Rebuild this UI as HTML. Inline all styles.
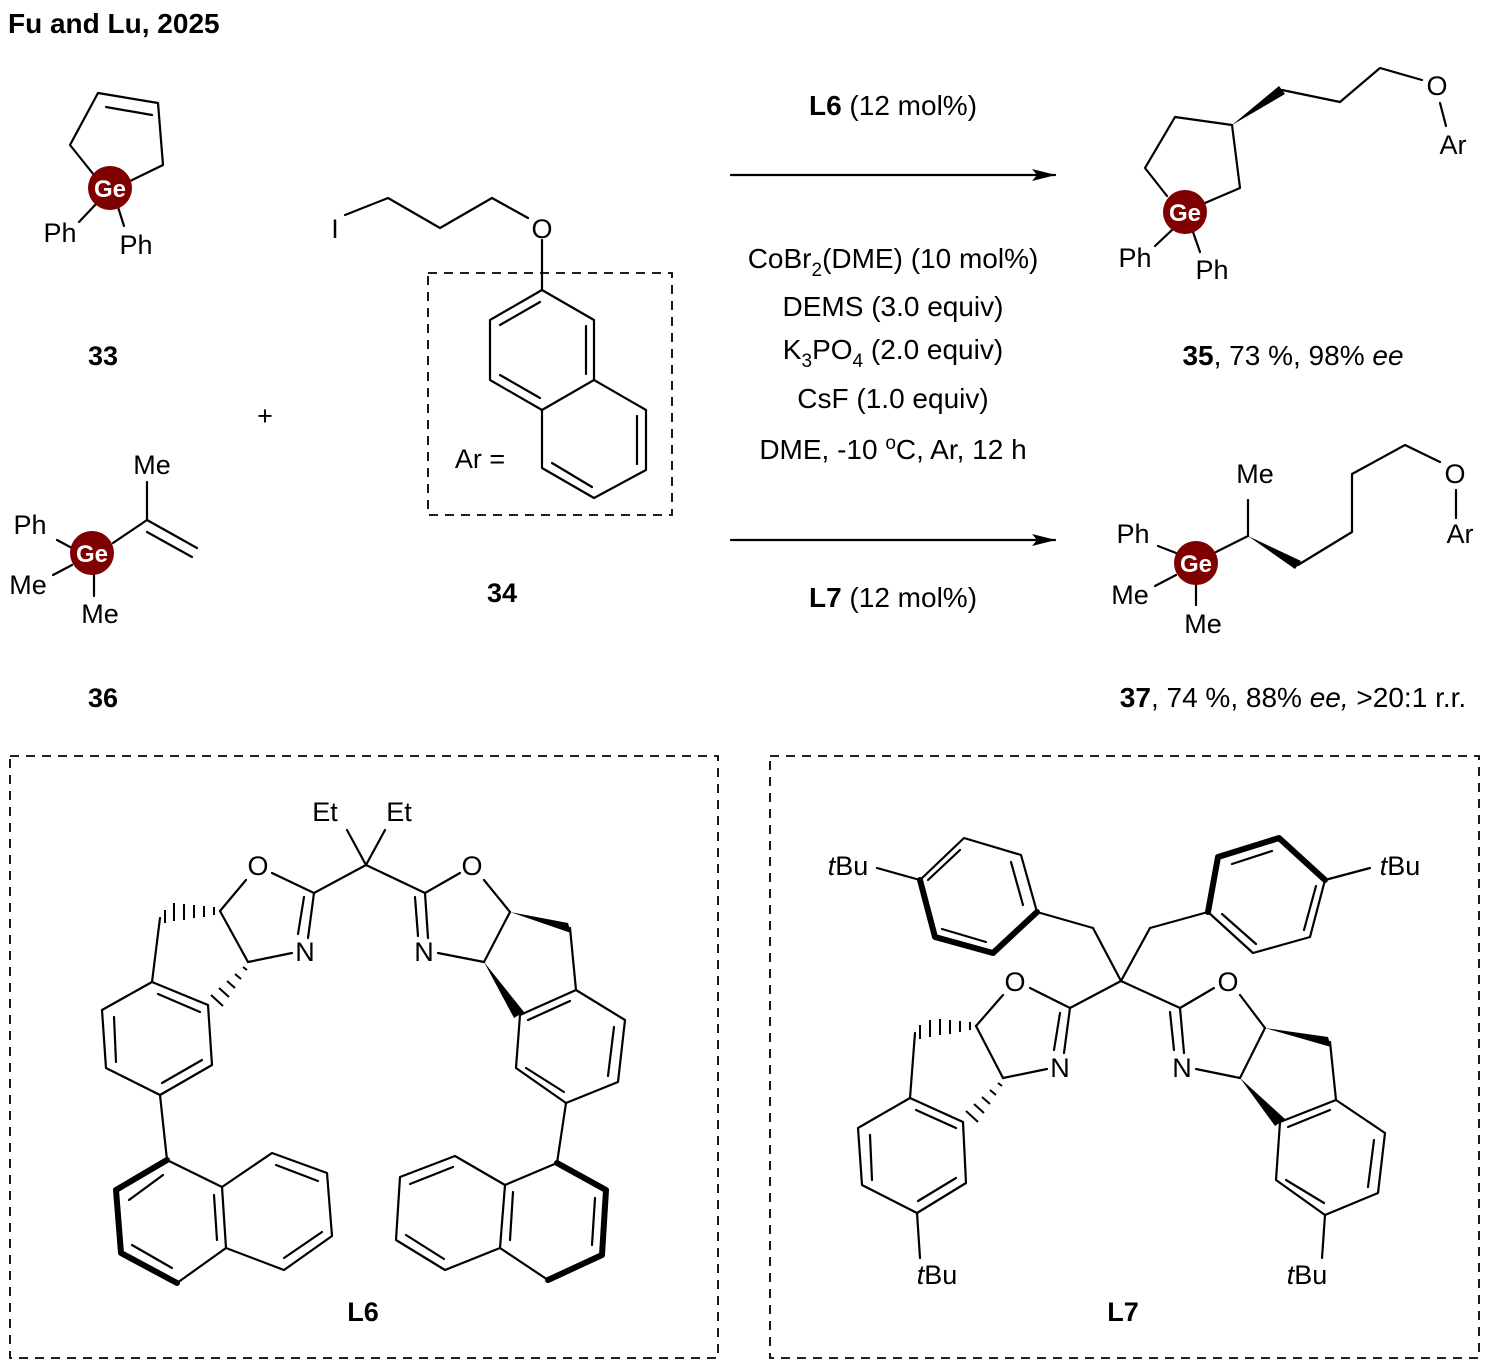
<!DOCTYPE html>
<html><head><meta charset="utf-8"><style>
html,body{margin:0;padding:0;background:#fff}
svg{display:block}
text{font-family:"Liberation Sans",Arial,sans-serif;fill:#000}
</style></head><body>
<svg width="1489" height="1368" viewBox="0 0 1489 1368" xmlns="http://www.w3.org/2000/svg">
<defs>
<marker id="ah" markerWidth="24" markerHeight="12" refX="23" refY="6" orient="auto" markerUnits="userSpaceOnUse"><path d="M0,0 L24,6 L0,12 L5,6 z" fill="#000"/></marker>
</defs>
<g stroke="#000" stroke-width="2.2" fill="none" stroke-linecap="round" stroke-linejoin="round">
<polyline points="94,175 70,145 98,93 158,103 163,165 128,182"/>
<line x1="106" y1="107" x2="152" y2="115"/>
<line x1="96" y1="204" x2="79" y2="222"/>
<line x1="118" y1="207" x2="124" y2="226"/>
<polyline points="345,215 388,198 440,228 492,198 528,218"/>
<line x1="542" y1="240" x2="542" y2="290"/>
<polygon points="542,290 594,320 594,380 542,410 490,380 490,320"/>
<polyline points="594,380 646,410 646,470 594,498 542,468 542,410"/>
<line x1="500" y1="325" x2="540" y2="302"/>
<line x1="586" y1="326" x2="586" y2="374"/>
<line x1="500" y1="375" x2="540" y2="398"/>
<line x1="637" y1="416" x2="637" y2="464"/>
<line x1="552" y1="463" x2="592" y2="487"/>
<line x1="113" y1="543" x2="147" y2="520"/>
<line x1="147" y1="520" x2="147" y2="482"/>
<line x1="147" y1="520" x2="197" y2="548"/>
<line x1="147" y1="532" x2="192" y2="557"/>
<line x1="57" y1="540" x2="72" y2="548"/>
<line x1="53" y1="575" x2="72" y2="565"/>
<line x1="94" y1="575" x2="94" y2="596"/>
<line x1="731" y1="175" x2="1055" y2="175" marker-end="url(#ah)"/>
<line x1="731" y1="540" x2="1055" y2="540" marker-end="url(#ah)"/>
<polyline points="1167,196 1145,168 1175,117 1232,125 1240,188 1205,203"/>
<polyline points="1282,90 1340,102 1380,68 1422,80"/>
<line x1="1440" y1="103" x2="1446" y2="126"/>
<line x1="1172" y1="230" x2="1155" y2="246"/>
<line x1="1193" y1="232" x2="1200" y2="252"/>
<line x1="1216" y1="552" x2="1248" y2="536"/>
<line x1="1248" y1="536" x2="1248" y2="500"/>
<polyline points="1298,565 1352,532 1352,474 1405,445 1440,462"/>
<line x1="1456" y1="490" x2="1456" y2="518"/>
<line x1="1158" y1="546" x2="1176" y2="553"/>
<line x1="1155" y1="586" x2="1176" y2="575"/>
<line x1="1196" y1="585" x2="1196" y2="605"/>
<line x1="366" y1="865" x2="347" y2="830"/>
<line x1="366" y1="865" x2="385" y2="830"/>
<line x1="366" y1="865" x2="314" y2="893"/>
<line x1="366" y1="865" x2="425" y2="893"/>
<line x1="314" y1="893" x2="272" y2="873"/>
<line x1="246" y1="880" x2="220" y2="911"/>
<line x1="220" y1="911" x2="248" y2="962"/>
<line x1="248" y1="962" x2="292" y2="953"/>
<line x1="314" y1="893" x2="308" y2="938"/>
<line x1="304" y1="897" x2="298" y2="934"/>
<line x1="160" y1="918" x2="152" y2="982"/>
<polygon points="152,982 208,1005 212,1065 160,1095 106,1068 102,1010"/>
<line x1="158" y1="994" x2="200" y2="1012"/>
<line x1="202" y1="1060" x2="162" y2="1083"/>
<line x1="114" y1="1017" x2="116" y2="1062"/>
<line x1="160" y1="1095" x2="167" y2="1160"/>
<polyline points="167,1160 222,1187 226,1248 177,1283"/>
<polyline points="222,1187 272,1153 327,1173 332,1236 284,1270 226,1248"/>
<line x1="276" y1="1165" x2="318" y2="1181"/>
<line x1="322" y1="1232" x2="284" y2="1258"/>
<line x1="214" y1="1195" x2="217" y2="1240"/>
<line x1="129" y1="1200" x2="163" y2="1175"/>
<line x1="132" y1="1245" x2="172" y2="1268"/>
<line x1="425" y1="893" x2="460" y2="873"/>
<line x1="484" y1="880" x2="510" y2="912"/>
<line x1="510" y1="912" x2="484" y2="962"/>
<line x1="484" y1="962" x2="438" y2="953"/>
<line x1="425" y1="893" x2="428" y2="938"/>
<line x1="415" y1="897" x2="418" y2="936"/>
<line x1="570" y1="928" x2="576" y2="990"/>
<polygon points="520,1015 576,990 625,1020 618,1082 566,1103 516,1068"/>
<line x1="528" y1="1020" x2="570" y2="1001"/>
<line x1="614" y1="1027" x2="608" y2="1076"/>
<line x1="526" y1="1068" x2="564" y2="1092"/>
<line x1="566" y1="1103" x2="557" y2="1163"/>
<polyline points="557,1163 505,1185 500,1248 548,1280"/>
<polyline points="505,1185 455,1156 400,1177 396,1240 445,1270 500,1248"/>
<line x1="453" y1="1167" x2="410" y2="1184"/>
<line x1="406" y1="1235" x2="444" y2="1259"/>
<line x1="513" y1="1192" x2="510" y2="1240"/>
<line x1="595" y1="1198" x2="592" y2="1245"/>
<line x1="1121" y1="981" x2="1093" y2="928"/>
<line x1="1121" y1="981" x2="1150" y2="928"/>
<line x1="1093" y1="928" x2="1037" y2="912"/>
<line x1="1150" y1="928" x2="1208" y2="912"/>
<polyline points="1037,912 1021,855 964,838 920,880"/>
<line x1="1011" y1="862" x2="1023" y2="905"/>
<line x1="960" y1="850" x2="928" y2="880"/>
<line x1="942" y1="929" x2="986" y2="942"/>
<polyline points="1325,880 1310,937 1253,953 1208,912"/>
<line x1="1232" y1="864" x2="1272" y2="851"/>
<line x1="1316" y1="886" x2="1304" y2="930"/>
<line x1="1222" y1="914" x2="1256" y2="944"/>
<line x1="920" y1="880" x2="877" y2="868"/>
<line x1="1325" y1="880" x2="1370" y2="868"/>
<line x1="1121" y1="981" x2="1070" y2="1008"/>
<line x1="1121" y1="981" x2="1180" y2="1008"/>
<line x1="1070" y1="1008" x2="1030" y2="988"/>
<line x1="1003" y1="995" x2="976" y2="1026"/>
<line x1="976" y1="1026" x2="1003" y2="1078"/>
<line x1="1003" y1="1078" x2="1047" y2="1069"/>
<line x1="1070" y1="1008" x2="1064" y2="1053"/>
<line x1="1060" y1="1013" x2="1054" y2="1050"/>
<line x1="915" y1="1033" x2="910" y2="1098"/>
<polygon points="910,1098 963,1122 966,1183 917,1213 862,1185 858,1128"/>
<line x1="916" y1="1110" x2="956" y2="1128"/>
<line x1="956" y1="1178" x2="918" y2="1201"/>
<line x1="870" y1="1135" x2="872" y2="1180"/>
<line x1="917" y1="1213" x2="920" y2="1258"/>
<line x1="1180" y1="1008" x2="1214" y2="988"/>
<line x1="1240" y1="995" x2="1265" y2="1028"/>
<line x1="1265" y1="1028" x2="1240" y2="1078"/>
<line x1="1240" y1="1078" x2="1196" y2="1069"/>
<line x1="1180" y1="1008" x2="1184" y2="1053"/>
<line x1="1170" y1="1012" x2="1174" y2="1050"/>
<line x1="1330" y1="1042" x2="1336" y2="1100"/>
<polygon points="1280,1122 1336,1100 1385,1133 1378,1193 1325,1215 1276,1180"/>
<line x1="1288" y1="1127" x2="1330" y2="1110"/>
<line x1="1374" y1="1140" x2="1368" y2="1187"/>
<line x1="1286" y1="1180" x2="1324" y2="1203"/>
<line x1="1325" y1="1215" x2="1322" y2="1258"/>
</g>
<g stroke="#000" stroke-width="6" fill="none" stroke-linecap="round" stroke-linejoin="round">
<polyline points="167,1160 116,1190 121,1253 177,1283"/>
<polyline points="557,1163 606,1190 602,1255 548,1280"/>
<polyline points="920,880 935,937 993,953 1037,912"/>
<polyline points="1208,912 1218,857 1279,838 1325,880"/>
</g>
<g fill="#000">
<polygon points="1232,125 1279,86 1285,94"/>
<polygon points="1248,536 1295,569 1301,561"/>
<polygon points="510,912 568,923 571,933"/>
<polygon points="484,962 514,1018 524,1012"/>
<polygon points="1265,1028 1328,1037 1331,1047"/>
<polygon points="1240,1078 1275,1126 1285,1119"/>
</g>
<g stroke="#000" stroke-width="2">
<line x1="214" y1="907" x2="214" y2="915"/><line x1="204" y1="906" x2="204" y2="917"/><line x1="194" y1="905" x2="194" y2="918"/><line x1="184" y1="904" x2="184" y2="920"/><line x1="174" y1="903" x2="174" y2="921"/><line x1="165" y1="910" x2="165" y2="923"/>
<line x1="243" y1="967" x2="247" y2="970"/><line x1="235" y1="974" x2="241" y2="979"/><line x1="227" y1="981" x2="235" y2="988"/><line x1="219" y1="988" x2="229" y2="997"/><line x1="211" y1="995" x2="223" y2="1006"/>
<line x1="970" y1="1022" x2="970" y2="1030"/><line x1="960" y1="1021" x2="960" y2="1032"/><line x1="950" y1="1020" x2="950" y2="1034"/><line x1="940" y1="1019" x2="940" y2="1035"/><line x1="930" y1="1020" x2="930" y2="1037"/><line x1="920" y1="1025" x2="920" y2="1039"/>
<line x1="998" y1="1083" x2="1002" y2="1086"/><line x1="990" y1="1090" x2="996" y2="1095"/><line x1="982" y1="1097" x2="990" y2="1104"/><line x1="974" y1="1104" x2="984" y2="1113"/><line x1="966" y1="1111" x2="978" y2="1122"/>
</g>
<g>
<circle cx="110" cy="188" r="22" fill="#7f0000"/><text x="110" y="197" font-size="24" font-weight="bold" text-anchor="middle" style="fill:#fff">Ge</text>
<circle cx="92" cy="553" r="22" fill="#7f0000"/><text x="92" y="562" font-size="24" font-weight="bold" text-anchor="middle" style="fill:#fff">Ge</text>
<circle cx="1185" cy="212" r="22" fill="#7f0000"/><text x="1185" y="221" font-size="24" font-weight="bold" text-anchor="middle" style="fill:#fff">Ge</text>
<circle cx="1196" cy="563" r="22" fill="#7f0000"/><text x="1196" y="572" font-size="24" font-weight="bold" text-anchor="middle" style="fill:#fff">Ge</text>
</g>
<text x="8" y="33" font-weight="bold" font-size="28">Fu and Lu, 2025</text>
<g font-size="27" text-anchor="middle">
<text x="60" y="242">Ph</text><text x="136" y="254">Ph</text>
<text x="103" y="365" font-weight="bold">33</text>
<text x="265" y="425">+</text>
<text x="335" y="238">I</text><text x="542" y="238">O</text>
<text x="480" y="468">Ar =</text>
<text x="502" y="602" font-weight="bold">34</text>
<text x="152" y="474">Me</text><text x="30" y="534">Ph</text><text x="28" y="594">Me</text><text x="100" y="623">Me</text>
<text x="103" y="707" font-weight="bold">36</text>
<text x="893" y="115" font-size="28"><tspan font-weight="bold">L6</tspan> (12 mol%)</text>
<text x="893" y="268" font-size="28">CoBr<tspan font-size="19" dy="8">2</tspan><tspan dy="-8">(DME) (10 mol%)</tspan></text>
<text x="893" y="316" font-size="28">DEMS (3.0 equiv)</text>
<text x="893" y="359" font-size="28">K<tspan font-size="19" dy="8">3</tspan><tspan dy="-8">PO</tspan><tspan font-size="19" dy="8">4</tspan><tspan dy="-8">  (2.0 equiv)</tspan></text>
<text x="893" y="408" font-size="28">CsF (1.0 equiv)</text>
<text x="893" y="459" font-size="28">DME, -10 <tspan font-size="19" dy="-10">o</tspan><tspan dy="10">C, Ar, 12 h</tspan></text>
<text x="893" y="607" font-size="28"><tspan font-weight="bold">L7</tspan> (12 mol%)</text>
<text x="1437" y="95">O</text><text x="1453" y="154">Ar</text>
<text x="1135" y="267">Ph</text><text x="1212" y="279">Ph</text>
<text x="1293" y="365" font-size="28"><tspan font-weight="bold">35</tspan>, 73 %, 98% <tspan font-style="italic">ee</tspan></text>
<text x="1255" y="483">Me</text><text x="1455" y="483">O</text><text x="1460" y="543">Ar</text>
<text x="1133" y="543">Ph</text><text x="1130" y="604">Me</text><text x="1203" y="633">Me</text>
<text x="1293" y="707" font-size="28"><tspan font-weight="bold">37</tspan>, 74 %, 88% <tspan font-style="italic">ee,</tspan> &gt;20:1 r.r.</text>
<text x="325" y="821">Et</text><text x="399" y="821">Et</text>
<text x="258" y="875">O</text><text x="305" y="961">N</text>
<text x="472" y="875">O</text><text x="424" y="961">N</text>
<text x="363" y="1321" font-weight="bold">L6</text>
<text x="848" y="875"><tspan font-style="italic">t</tspan>Bu</text>
<text x="1400" y="875"><tspan font-style="italic">t</tspan>Bu</text>
<text x="1015" y="991">O</text><text x="1060" y="1077">N</text>
<text x="1228" y="991">O</text><text x="1182" y="1077">N</text>
<text x="937" y="1284"><tspan font-style="italic">t</tspan>Bu</text>
<text x="1307" y="1284"><tspan font-style="italic">t</tspan>Bu</text>
<text x="1123" y="1321" font-weight="bold">L7</text>
</g>
<g fill="none" stroke="#000" stroke-width="1.8" stroke-dasharray="9,7">
<rect x="428" y="273" width="244" height="242"/>
<rect x="10" y="756" width="708" height="602"/>
<rect x="770" y="756" width="709" height="602"/>
</g>
</svg>
</body></html>
